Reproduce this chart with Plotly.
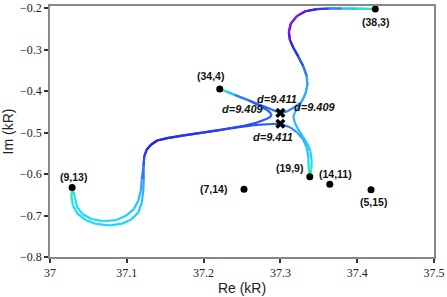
import plotly.graph_objects as go
from plotly.colors import sample_colorscale

# ---------------- data ----------------
# labelled points (Re, Im) in kR
pt_labels = ["(38,3)", "(34,4)", "(9,13)", "(7,14)", "(19,9)", "(14,11)", "(5,15)"]
pt_re = [37.4236, 37.2210, 37.0288, 37.2526, 37.3383, 37.3643, 37.4180]
pt_im = [-0.2017, -0.3945, -0.6326, -0.6365, -0.6064, -0.6246, -0.6380]

# exceptional-point markers
ep_re = [37.3000, 37.3000]
ep_im = [-0.4524, -0.4786]

# trajectory d=9.411, upper branch: (34,4) -> EP -> (38,3)
c1_re = [37.2210, 37.2305, 37.2409, 37.2591, 37.2747, 37.2877, 37.3000, 37.3084, 37.3175,
         37.3273, 37.3325, 37.3351, 37.3344, 37.3299, 37.3234, 37.3169, 37.3123, 37.3110,
         37.3136, 37.3214, 37.3325, 37.3474, 37.3630, 37.3799, 37.3981, 37.4236]
c1_im = [-0.3945, -0.4012, -0.4090, -0.4226, -0.4340, -0.4436, -0.4524, -0.4488, -0.4393,
         -0.4262, -0.4071, -0.3857, -0.3643, -0.3405, -0.3167, -0.2952, -0.2762, -0.2571,
         -0.2369, -0.2190, -0.2071, -0.2019, -0.2005, -0.2005, -0.2010, -0.2017]
c1_t = [0.00, 0.15, 0.45, 0.58, 0.60, 0.58, 0.55, 0.50, 0.45,
        0.40, 0.36, 0.36, 0.45, 0.58, 0.70, 0.80, 0.90, 0.97,
        1.00, 1.00, 0.90, 0.80, 0.62, 0.38, 0.18, 0.00]

# trajectory d=9.411, lower branch: (9,13) -> EP -> (19,9)
c2_re = [37.0288, 37.0279, 37.0299, 37.0357, 37.0461, 37.0604, 37.0773, 37.0929, 37.1058,
         37.1149, 37.1195, 37.1214, 37.1221, 37.1218, 37.1227, 37.1260, 37.1318, 37.1396,
         37.1526, 37.1721, 37.1942, 37.2201, 37.2461, 37.2656, 37.2825, 37.3000,
         37.3123, 37.3214, 37.3292, 37.3344, 37.3364, 37.3368, 37.3383]
c2_im = [-0.6326, -0.6548, -0.6762, -0.6952, -0.7107, -0.7202, -0.7238, -0.7202, -0.7095,
         -0.6929, -0.6690, -0.6405, -0.6119, -0.5810, -0.5571, -0.5405, -0.5286, -0.5190,
         -0.5131, -0.5071, -0.5012, -0.4940, -0.4869, -0.4821, -0.4798, -0.4786,
         -0.4869, -0.4988, -0.5155, -0.5357, -0.5595, -0.5833, -0.6064]
c2_t = [0.00, 0.10, 0.16, 0.20, 0.20, 0.20, 0.20, 0.22, 0.24,
        0.27, 0.30, 0.36, 0.45, 0.58, 0.68, 0.76, 0.80, 0.80,
        0.78, 0.76, 0.74, 0.70, 0.66, 0.63, 0.60, 0.56,
        0.50, 0.44, 0.38, 0.32, 0.25, 0.15, 0.00]

# trajectory d=9.409, left branch: (34,4) -> avoided crossing -> (9,13)
c3_re = [37.2210, 37.2305, 37.2409, 37.2591, 37.2734, 37.2825, 37.2877, 37.2883, 37.2825,
         37.2695, 37.2526, 37.2201, 37.1942, 37.1721, 37.1526, 37.1396, 37.1318, 37.1260,
         37.1227, 37.1218, 37.1195, 37.1182, 37.1149, 37.1091, 37.0994, 37.0864, 37.0695,
         37.0539, 37.0422, 37.0351, 37.0325, 37.0288]
c3_im = [-0.3945, -0.4012, -0.4090, -0.4226, -0.4357, -0.4452, -0.4536, -0.4595, -0.4667,
         -0.4757, -0.4833, -0.4940, -0.5012, -0.5071, -0.5131, -0.5190, -0.5286, -0.5405,
         -0.5571, -0.5810, -0.6119, -0.6405, -0.6643, -0.6845, -0.7000, -0.7107, -0.7138,
         -0.7083, -0.6964, -0.6786, -0.6571, -0.6326]
c3_t = [0.00, 0.15, 0.45, 0.58, 0.60, 0.60, 0.60, 0.60, 0.62,
        0.64, 0.66, 0.70, 0.74, 0.76, 0.78, 0.80, 0.80, 0.76,
        0.68, 0.58, 0.45, 0.36, 0.30, 0.27, 0.24, 0.22, 0.20,
        0.20, 0.20, 0.18, 0.12, 0.00]

# trajectory d=9.409, right branch: (38,3) -> avoided crossing -> (19,9)
c4_re = [37.4236, 37.3981, 37.3799, 37.3630, 37.3474, 37.3325, 37.3214, 37.3136, 37.3110,
         37.3123, 37.3169, 37.3234, 37.3299, 37.3344, 37.3351, 37.3325, 37.3273,
         37.3227, 37.3188, 37.3169, 37.3188, 37.3234, 37.3292, 37.3351, 37.3390,
         37.3407, 37.3403, 37.3383]
c4_im = [-0.2017, -0.2010, -0.2005, -0.2005, -0.2019, -0.2071, -0.2190, -0.2369, -0.2571,
         -0.2762, -0.2952, -0.3167, -0.3405, -0.3643, -0.3857, -0.4071, -0.4262,
         -0.4405, -0.4512, -0.4619, -0.4762, -0.4929, -0.5095, -0.5262, -0.5452,
         -0.5667, -0.5881, -0.6064]
c4_t = [0.00, 0.18, 0.38, 0.62, 0.80, 0.90, 1.00, 1.00, 0.97,
        0.90, 0.80, 0.70, 0.58, 0.45, 0.36, 0.36, 0.40,
        0.38, 0.36, 0.35, 0.34, 0.32, 0.30, 0.27, 0.24,
        0.20, 0.12, 0.00]

d_labels = ["d=9.411", "d=9.409", "d=9.409", "d=9.411"]

x_ticks = [37.0, 37.1, 37.2, 37.3, 37.4, 37.5]
y_ticks = [-0.8, -0.7, -0.6, -0.5, -0.4, -0.3, -0.2]

# ---------------- style ----------------
cscale = [
    [0.00, "#2ee88f"],
    [0.10, "#1ee8d2"],
    [0.22, "#12d8ff"],
    [0.40, "#35a4ff"],
    [0.60, "#2a5cff"],
    [0.80, "#2424ee"],
    [1.00, "#8412f0"],
]

fig = go.Figure()

def add_gradient_curve(xs, ys, ts):
    for i in range(len(xs) - 1):
        col = sample_colorscale(cscale, [(ts[i] + ts[i + 1]) / 2])[0]
        fig.add_trace(go.Scatter(
            x=[xs[i], xs[i + 1]], y=[ys[i], ys[i + 1]],
            mode="lines", line=dict(color=col, width=2.2),
            hoverinfo="skip", showlegend=False))

for xs, ys, ts in [(c1_re, c1_im, c1_t), (c2_re, c2_im, c2_t),
                   (c3_re, c3_im, c3_t), (c4_re, c4_im, c4_t)]:
    add_gradient_curve(xs, ys, ts)

fig.add_trace(go.Scatter(x=pt_re, y=pt_im, mode="markers",
                         marker=dict(color="black", size=7),
                         showlegend=False, hoverinfo="skip"))
fig.add_trace(go.Scatter(x=ep_re, y=ep_im, mode="markers",
                         marker=dict(color="black", size=9, symbol="x"),
                         showlegend=False, hoverinfo="skip"))

# point labels (pixel offsets from each point)
offsets = [(0, -13), (-9, 13), (1, 11), (-31, 0), (-20, 9), (6, 10), (2, -12)]
lab_font = dict(family="Liberation Sans, Arial, sans-serif", size=10.5, color="#111")
for lab, x, y, (dx, dy) in zip(pt_labels, pt_re, pt_im, offsets):
    fig.add_annotation(x=x, y=y, text="<b>" + lab + "</b>", showarrow=False,
                       xshift=dx, yshift=dy, font=lab_font)

# d labels around the EP markers
d_pos = [(0, -3.5, 14), (0, -37.5, 4), (0, 35, 5.5), (1, -7.5, -13)]
d_font = dict(family="Liberation Sans, Arial, sans-serif", size=11, color="#111")
for lab, (k, dx, dy) in zip(d_labels, d_pos):
    fig.add_annotation(x=ep_re[k], y=ep_im[k], text="<b><i>" + lab + "</i></b>",
                       showarrow=False, xshift=dx, yshift=dy, font=d_font)

axis_common = dict(
    showline=True, linecolor="#888888", linewidth=1.5, mirror=True,
    ticks="outside", ticklen=4, tickwidth=1.5, tickcolor="#333333",
    showgrid=False, zeroline=False, ticklabeloverflow="allow",
    tickfont=dict(family="Liberation Serif, Times New Roman, serif", size=12, color="#222"),
)

fig.update_xaxes(range=[37.0, 37.5], tickvals=x_ticks,
                 title=dict(text="Re (kR)", standoff=4,
                            font=dict(family="Liberation Sans, Arial, sans-serif", size=14, color="#222")),
                 **axis_common)
fig.update_yaxes(range=[-0.8, -0.1945], tickvals=y_ticks,
                 title=dict(text="Im (kR)", standoff=4,
                            font=dict(family="Liberation Sans, Arial, sans-serif", size=14, color="#222")),
                 **axis_common)

fig.update_layout(width=447, height=297,
                  margin=dict(l=50, r=12, t=2, b=40),
                  plot_bgcolor="white", paper_bgcolor="white")

fig.write_html("out.html", config={"displayModeBar": False},
               post_script="document.body.style.margin='0';")
